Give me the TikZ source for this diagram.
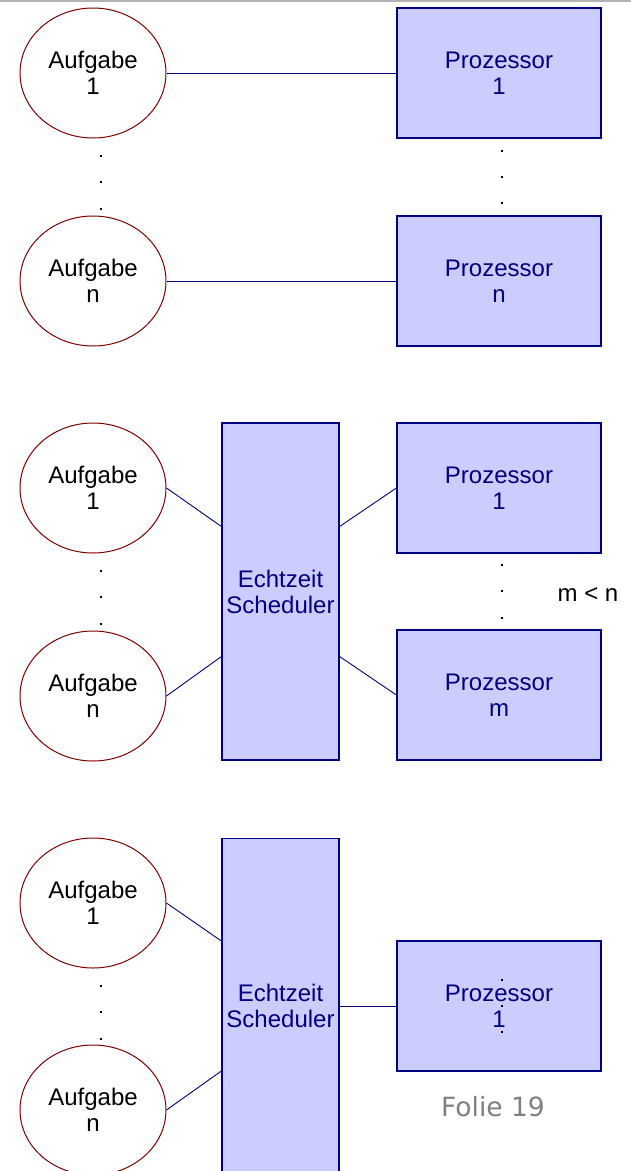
\documentclass[tikz,border=0pt]{standalone}
\usepackage{fontspec}
\setmainfont{Liberation Sans}
\newfontfamily\foliefont{DejaVu Sans}
\usepackage{tikz}
\usetikzlibrary{shapes.geometric}

\definecolor{taskred}{RGB}{128,0,0}
\definecolor{procfill}{RGB}{204,204,255}
\definecolor{procblue}{RGB}{0,0,128}
\definecolor{foliegray}{RGB}{128,128,128}

\begin{document}
\begin{tikzpicture}[x=1pt, y=-1pt,
  task/.style={ellipse, draw=taskred, line width=1pt, minimum width=146pt,
    minimum height=130pt, inner sep=0pt, align=center,
    font=\fontsize{24}{26}\selectfont},
  proc/.style={rectangle, draw=procblue, fill=procfill, line width=1.2pt,
    minimum width=204pt, minimum height=130pt, inner sep=0pt, align=center,
    text=procblue, font=\fontsize{24}{26}\selectfont},
  sched/.style={proc, minimum width=117pt},
  link/.style={draw=procblue, line width=0.9pt},
  dot/.style={rectangle, fill=black, inner sep=0pt, minimum size=2pt}]
  \useasboundingbox (0,0) rectangle (631,1171);
  \draw[black!30, line width=2pt] (0,1) -- (631,1);

  % one processor per task
  \node[task] at (93,73) (a1) {Aufgabe\\1};
  \node[task] at (93,281) (an) {Aufgabe\\n};
  \node[proc] at (499,73) (p1) {Prozessor\\1};
  \node[proc] at (499,281) (pn) {Prozessor\\n};

  \draw[link] (a1.east) -- (p1.west);
  \draw[link] (an.east) -- (pn.west);

  \foreach \y [count=\i] in {155.7,181.7,208.7}
    \node[dot] at (101,\y) (adot\i) {};
  \foreach \y [count=\i] in {150.7,176.7,203.3}
    \node[dot] at (502,\y) (pdot\i) {};

  % scheduler with m processors
  \node[task] at (93,488) (b1) {Aufgabe\\1};
  \node[task] at (93,696) (bn) {Aufgabe\\n};
  \node[sched, minimum height=337pt] at (280.5,591.5) (s) {Echtzeit\\Scheduler};
  \node[proc] at (499,488) (q1) {Prozessor\\1};
  \node[proc] at (499,695) (qm) {Prozessor\\m};

  \draw[link] (b1.east) -- ([yshift=65pt]s.west);
  \draw[link] (bn.east) -- ([yshift=-65pt]s.west);
  \draw[link] ([yshift=65pt]s.east) -- (q1.west);
  \draw[link] ([yshift=-65pt]s.east) -- (qm.west);

  \foreach \y [count=\i] in {570.7,596.7,623.7}
    \node[dot] at (101,\y) (bdot\i) {};
  \foreach \y [count=\i] in {565,591,617.7}
    \node[dot] at (502,\y) (qdot\i) {};
  \node[anchor=base, font=\fontsize{24}{26}\selectfont] at (588,601) (mn) {m < n};

  % scheduler with a single processor
  \node[task] at (93,903) (c1) {Aufgabe\\1};
  \node[task] at (93,1110) (cn) {Aufgabe\\n};
  \node[sched, minimum height=362pt, anchor=north] at (280.5,838) (t) {};
  \node[font=\fontsize{24}{26}\selectfont, align=center, text=procblue]
    at (280.5,1006) (tlabel) {Echtzeit\\Scheduler};
  \node[proc] at (499,1006) (r) {Prozessor\\1};

  \draw[link] (c1.east) -- ([yshift=-103pt]t.north west);
  \draw[link] (cn.east) -- ([yshift=-233pt]t.north west);
  \draw[link] (t.east |- r.west) -- (r.west);

  \foreach \y [count=\i] in {985.7,1011.7,1038.7}
    \node[dot] at (101,\y) (cdot\i) {};
  \foreach \y [count=\i] in {980,1005.7,1032.3}
    \node[dot] at (502,\y) (rdot\i) {};

  \node[anchor=base, text=foliegray, font=\foliefont\fontsize{26.5}{30}\selectfont]
    at (493,1116.5) (folie) {Folie 19};
\end{tikzpicture}
\end{document}
